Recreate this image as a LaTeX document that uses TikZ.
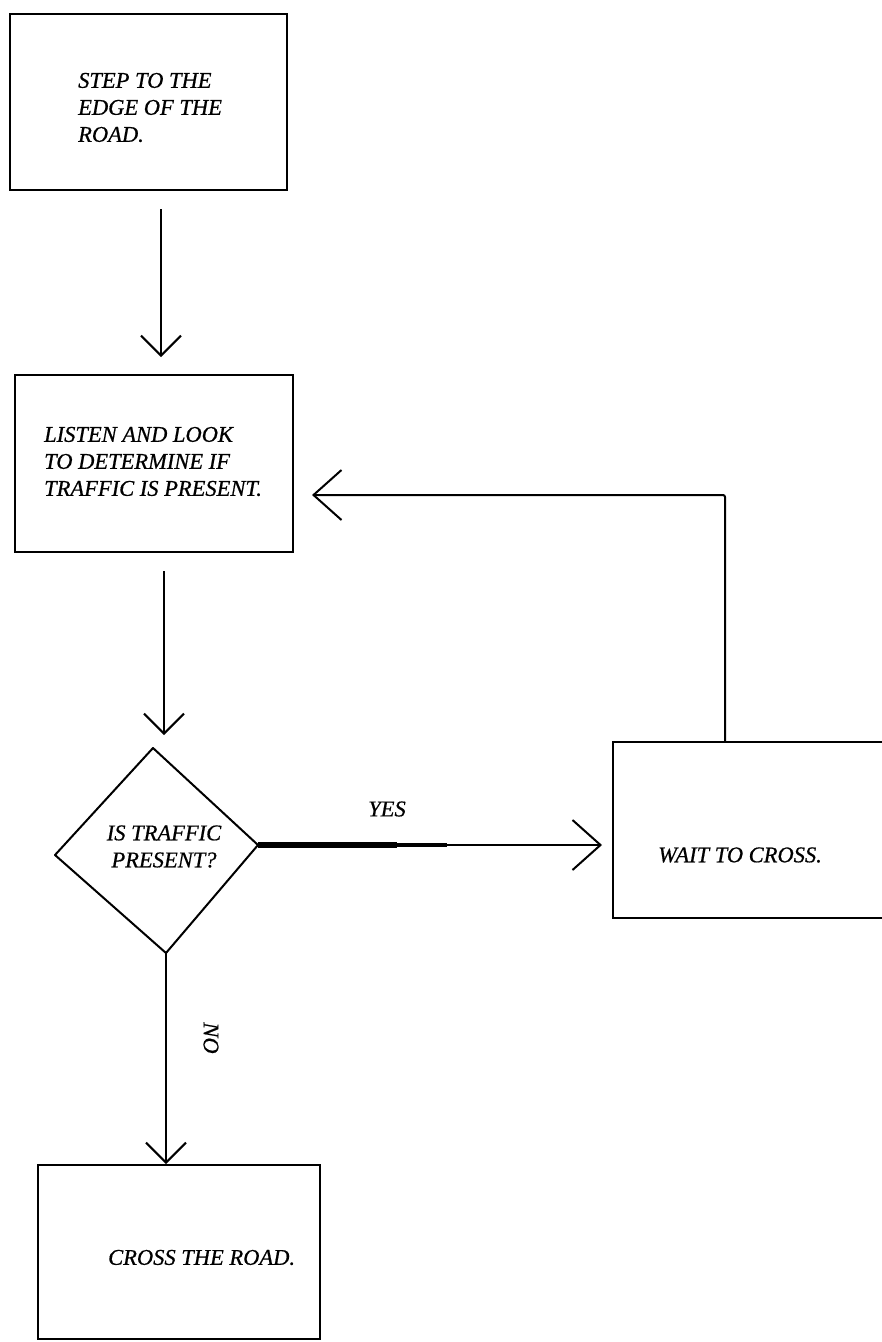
\documentclass[tikz,border=0pt]{standalone}
\usepackage{fontspec}
\setmainfont{Liberation Serif}
\newfontfamily\drawfont{Liberation Serif}[FakeBold=0.6]
\usetikzlibrary{arrows.meta}
\begin{document}
\begin{tikzpicture}[x=1pt,y=-1pt,
  box/.style={draw, line width=2pt, inner sep=0pt},
  txt/.style={font=\drawfont\fontsize{22.5}{27}\selectfont\itshape, align=left, inner sep=0pt},
  flow/.style={line width=2pt, -{Straight Barb[length=20pt,width=40pt,line width=2pt]}},
  bigflow/.style={line width=2pt, -{Straight Barb[length=28pt,width=50pt,line width=2pt]}},
]
\useasboundingbox (0,0) rectangle (882,1342);
% boxes
\node[box, minimum width=277pt, minimum height=176pt] (box1) at (148.5,102) {};
\node[box, minimum width=278pt, minimum height=177pt] (box2) at (154,463.5) {};
\node[box, minimum width=300pt, minimum height=176pt] (box3) at (763,830) {};
\node[box, minimum width=282pt, minimum height=174pt] (box4) at (179,1252) {};
% diamond
\coordinate (dT) at (153,748);
\coordinate (dR) at (258,845);
\coordinate (dB) at (166,953);
\coordinate (dL) at (55,855);
\draw[line width=2pt, line join=round] (dT) -- (dR) -- (dB) -- (dL) -- cycle;
% texts
\node[txt, anchor=west] (t1) at (78,107.5) {STEP TO THE\\EDGE OF THE\\ROAD.};
\node[txt, anchor=west] (t2) at (44,461.5) {LISTEN AND LOOK\\TO DETERMINE IF\\TRAFFIC IS PRESENT.};
\node[txt, align=center] (t3) at (164,846.5) {IS TRAFFIC\\PRESENT?};
\node[txt, anchor=west] (t4) at (658,855) {WAIT TO CROSS.};
\node[txt, anchor=west] (t5) at (108,1257.5) {CROSS THE ROAD.};
\node[txt] (yes) at (387,809) {YES};
\node[txt, rotate=-90] (no) at (211,1038) {NO};
% connectors
\coordinate (a1) at (161,0);
\coordinate (a2) at (164,0);
\coordinate (lp) at (725,495);
\coordinate (yT) at (397,845);
\coordinate (yM) at (447,845);
\draw[flow, shorten <=18pt, shorten >=17pt] (box1.south -| a1) -- (box2.north -| a1);
\draw[flow, shorten <=18pt, shorten >=13pt] (box2.south -| a2) -- (dT -| a2);
\draw[bigflow, shorten >=10pt] (dR) -- (box3.west |- dR);
\draw[line width=5.5pt] (dR) -- (yT);
\draw[line width=3.2pt] (yT) -- (yM);
\draw[bigflow, shorten >=18pt, rounded corners=2pt] (box3.north -| lp) -- (lp) -- (box2.east |- lp);
\draw[flow] (dB) -- (box4.north -| dB);
\end{tikzpicture}
\end{document}
